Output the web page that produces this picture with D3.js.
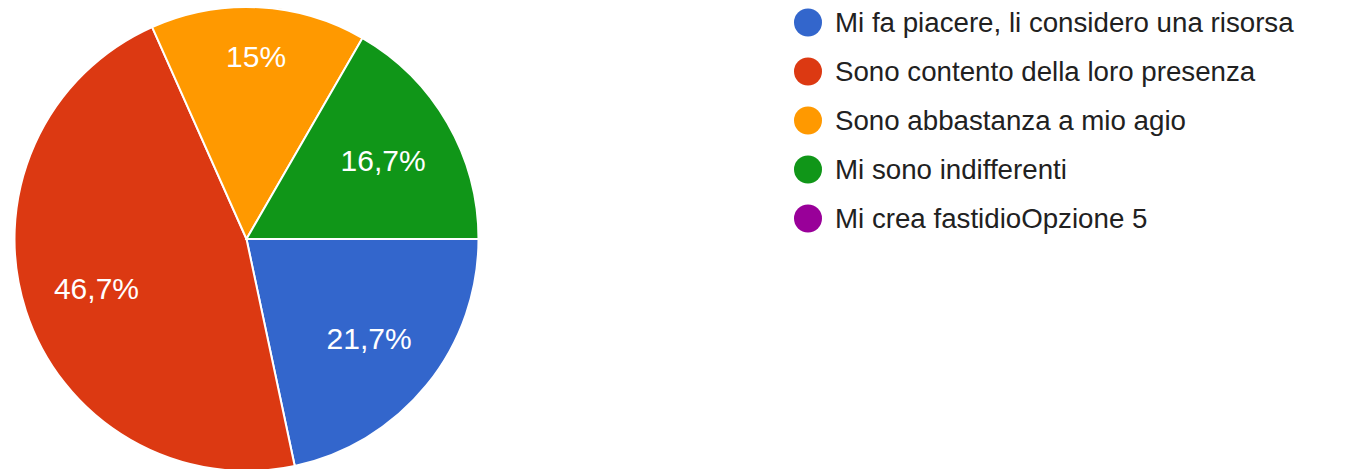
<!DOCTYPE html>
<html><head><meta charset="utf-8">
<script src="https://cdn.jsdelivr.net/npm/d3@7"></script>
<style>html,body{margin:0;padding:0;background:#fff;overflow:hidden}</style>
</head><body>
<svg id="chart" width="1359" height="469"></svg>
<script>
const categories = ["Mi fa piacere, li considero una risorsa","Sono contento della loro presenza","Sono abbastanza a mio agio","Mi sono indifferenti","Mi crea fastidioOpzione 5"];
const values = [13, 28, 9, 10, 0];
const colors = ["#3366CC","#DC3912","#FF9900","#109618","#990099"];

const svg = d3.select("#chart");
const cx = 246.5, cy = 239, R = 232;
const total = d3.sum(values);
const pie = d3.pie().sort(null).value(d => d.v).startAngle(Math.PI/2).endAngle(Math.PI/2 + 2*Math.PI);
const data = categories.map((c,i)=>({c, v: values[i], col: colors[i], i}));
const arcs = pie(data);
const arc = d3.arc().innerRadius(0).outerRadius(R);
const g = svg.append("g").attr("transform", `translate(${cx},${cy})`);
g.selectAll("path").data(arcs.filter(d=>d.data.v>0)).join("path")
  .attr("d", arc).attr("fill", d=>d.data.col).attr("stroke","#fff").attr("stroke-width",2);
const fmt = v => { const p = Math.round(v/total*1000)/10; return String(p).replace(".", ",") + "%"; };
// label radius: narrow slices near the top get pushed outward (as in the reference)
const labelR = d => (d.data.i === 2 ? 0.79 : 0.68) * R;
const labelPos = d => {
  const a = (d.startAngle + d.endAngle) / 2, r = labelR(d);
  return [r * Math.sin(a), -r * Math.cos(a)];
};
g.selectAll("text").data(arcs.filter(d=>d.data.v>0)).join("text")
  .attr("transform", d=>`translate(${labelPos(d)})`)
  .attr("text-anchor","middle").attr("dy","0.36em")
  .attr("fill","#fff").attr("font-family","Liberation Sans, Arial, sans-serif").attr("font-size",30)
  .text(d=>fmt(d.data.v));

const leg = svg.append("g");
const rows = leg.selectAll("g").data(data).join("g")
  .attr("transform",(d,i)=>`translate(808,${22.5 + i*49})`);
rows.append("circle").attr("r",14).attr("fill",d=>d.col);
rows.append("text").attr("x",27).attr("dy","0.36em")
  .attr("font-family","Liberation Sans, Arial, sans-serif").attr("font-size",27.7).attr("fill","#212121")
  .text(d=>d.c);
</script>
</body></html>
